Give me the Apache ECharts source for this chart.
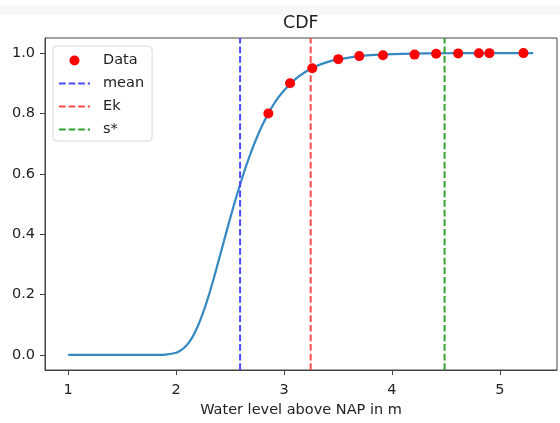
<!DOCTYPE html>
<html>
<head>
<meta charset="utf-8">
<script src="https://cdn.jsdelivr.net/npm/echarts@6/dist/echarts.min.js"></script>
<style>html,body{margin:0;padding:0;background:#fff;}#c{width:560px;height:423px;}</style>
</head>
<body>
<div id="c"></div>
<script>
// Fitted CDF curve
const curveX = [1.0, 1.5, 1.8, 1.9, 2.0, 2.05, 2.1, 2.15, 2.2, 2.25, 2.3, 2.35, 2.4, 2.45, 2.5, 2.55, 2.6, 2.65, 2.7, 2.75, 2.8, 2.85, 2.9, 2.95, 3.0, 3.1, 3.2, 3.3, 3.4, 3.5, 3.6, 3.7, 3.8, 3.9, 4.0, 4.2, 4.4, 4.6, 4.8, 5.0, 5.31];
const curveY = [0.0, 0.0, 0.0, 0.001, 0.007, 0.017, 0.033, 0.058, 0.094, 0.14, 0.194, 0.255, 0.32, 0.386, 0.451, 0.514, 0.572, 0.627, 0.677, 0.722, 0.762, 0.797, 0.828, 0.854, 0.876, 0.912, 0.938, 0.957, 0.97, 0.979, 0.985, 0.99, 0.993, 0.995, 0.9965, 0.9983, 0.9992, 0.9996, 0.9998, 0.9999, 1.0];
// Data points
const dataX = [2.855, 3.056, 3.262, 3.503, 3.698, 3.917, 4.21, 4.41, 4.614, 4.806, 4.904, 5.219];
const dataY = [0.8, 0.9, 0.95, 0.98, 0.99, 0.993, 0.995, 0.998, 0.999, 0.9995, 0.9998, 0.9999];
// Vertical reference lines
const meanX = 2.593;
const ekX = 3.247;
const sStarX = 4.488;
// Axis ticks
const xTicks = [1, 2, 3, 4, 5];
const yTicks = [0, 0.2, 0.4, 0.6, 0.8, 1.0];
const xMin = 0.785, xMax = 5.53;
const yMin = -0.05, yMax = 1.05;

const font = "'DejaVu Sans', sans-serif";
const dash = [6.7, 2.9];
function vline(x) { return [[x, yMin], [x, yMax]]; }

const chart = echarts.init(document.getElementById('c'), null, {renderer: 'canvas'});
chart.setOption({
  animation: false,
  backgroundColor: '#fff',
  graphic: [{
    type: 'rect', silent: true, z: -10,
    shape: {x: 0, y: 5, width: 560, height: 10},
    style: {fill: '#f7f7f7'}
  }],
  title: {
    text: 'CDF', left: 283, top: 15, padding: 0,
    textStyle: {fontFamily: font, fontSize: 17.4, fontWeight: 'normal', color: '#222'}
  },
  legend: {
    orient: 'vertical', left: 53, top: 46,
    padding: [7, 8, 4, 5], itemGap: 8, itemWidth: 31, itemHeight: 12.5,
    backgroundColor: '#fff', borderColor: '#d8d8d8', borderWidth: 1, borderRadius: 4,
    textStyle: {fontFamily: font, fontSize: 14.5, color: '#222', padding: [0, 0, 0, 8]},
    data: [
      {name: 'Data'},
      {name: 'mean', itemStyle: {opacity: 0}},
      {name: 'Ek', itemStyle: {opacity: 0}},
      {name: 's*', itemStyle: {opacity: 0}}
    ]
  },
  grid: {left: 45, right: 3, top: 38, bottom: 52, show: true, borderColor: '#444', borderWidth: 1, backgroundColor: 'transparent'},
  xAxis: {
    type: 'value', min: xMin, max: xMax,
    name: 'Water level above NAP in m', nameLocation: 'middle', nameGap: 33,
    nameTextStyle: {fontFamily: font, fontSize: 14.5, color: '#222'},
    axisLine: {show: true, onZero: false, lineStyle: {color: '#444', width: 1}},
    axisTick: {show: true, length: 5, lineStyle: {color: '#444'}, customValues: xTicks},
    axisLabel: {margin: 13, fontFamily: font, fontSize: 14.5, color: '#222', customValues: xTicks, formatter: v => String(v)},
    splitLine: {show: false}
  },
  yAxis: {
    type: 'value', min: yMin, max: yMax,
    axisLine: {show: true, onZero: false, lineStyle: {color: '#444', width: 1}},
    axisTick: {show: true, length: 5, lineStyle: {color: '#444'}, customValues: yTicks},
    axisLabel: {margin: 10, fontFamily: font, fontSize: 14.5, color: '#222', customValues: yTicks, formatter: v => v.toFixed(1)},
    splitLine: {show: false}
  },
  series: [
    {
      name: 'CDF', type: 'line', data: curveX.map((x, i) => [x, curveY[i]]),
      showSymbol: false, smooth: 0.3, lineStyle: {color: '#3589c3', width: 2.2}, z: 2
    },
    {
      name: 'mean', type: 'line', data: vline(meanX), showSymbol: false, symbol: 'none',
      lineStyle: {color: '#4b4bff', width: 2, type: dash}, itemStyle: {color: '#4b4bff'}, z: 3
    },
    {
      name: 'Ek', type: 'line', data: vline(ekX), showSymbol: false, symbol: 'none',
      lineStyle: {color: '#ff4b4b', width: 2, type: dash}, itemStyle: {color: '#ff4b4b'}, z: 3
    },
    {
      name: 's*', type: 'line', data: vline(sStarX), showSymbol: false, symbol: 'none',
      lineStyle: {color: '#33a033', width: 2, type: dash}, itemStyle: {color: '#33a033'}, z: 3
    },
    {
      name: 'Data', type: 'line', data: dataX.map((x, i) => [x, dataY[i]]),
      symbol: 'circle', symbolSize: 10, showSymbol: true,
      lineStyle: {opacity: 0, width: 0}, itemStyle: {color: '#ff0000'}, z: 4
    }
  ]
});
</script>
</body>
</html>
